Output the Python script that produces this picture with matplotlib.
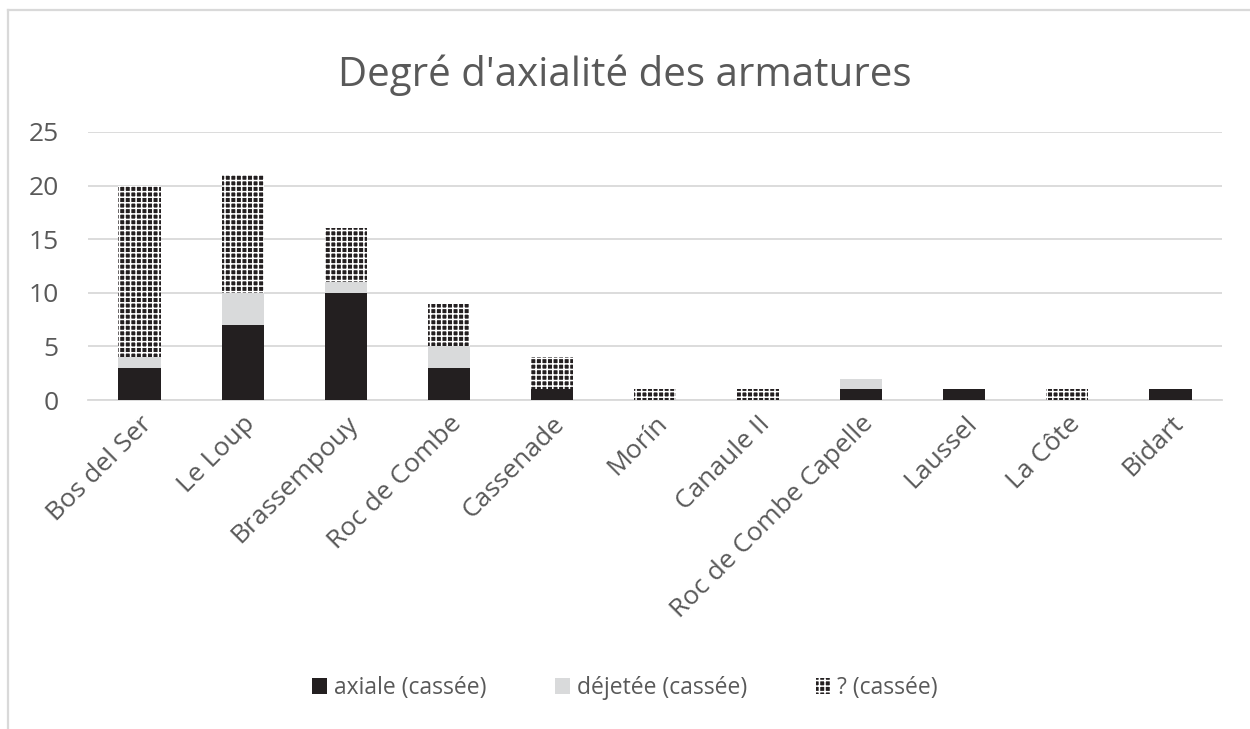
import numpy as np
import matplotlib.pyplot as plt
from matplotlib.patches import Patch
from matplotlib.lines import Line2D

sites = ["Bos del Ser", "Le Loup", "Brassempouy", "Roc de Combe", "Cassenade",
         "Morín", "Canaule II", "Roc de Combe Capelle", "Laussel", "La Côte", "Bidart"]
axiale = [3, 7, 10, 3, 1, 0, 0, 1, 1, 0, 1]
dejetee = [1, 3, 1, 2, 0, 0, 0, 1, 0, 0, 0]
inconnue = [16, 11, 5, 4, 3, 1, 1, 0, 0, 1, 0]
series_names = ["axiale (cassée)", "déjetée (cassée)", "? (cassée)"]

TEXT = "#595959"
GRID = "#d9d9d9"
DARK = "#231f20"
LIGHT = "#d9dadb"

plt.rcParams['font.family'] = ['Open Sans', 'DejaVu Sans']
plt.rcParams['hatch.linewidth'] = 1.1

fig = plt.figure(figsize=(12.5, 7.29), dpi=100)
ax = fig.add_axes([0.0704, 0.4513, 0.9072, 0.3677])

x = np.arange(len(sites))
w = 0.41
a = np.array(axiale)
d = np.array(dejetee)
q = np.array(inconnue)

ax.bar(x, a, w, color=DARK, linewidth=0, zorder=3)
ax.bar(x, d, w, bottom=a, color=LIGHT, linewidth=0, zorder=3)
ax.bar(x, q, w, bottom=a + d, facecolor=DARK, edgecolor="white",
       hatch="+++", linewidth=0, zorder=3)

ax.set_xlim(-0.5, len(sites) - 0.5)
ax.set_ylim(0, 25)
ax.set_yticks(range(0, 26, 5))
ax.yaxis.grid(True, color=GRID, linewidth=1.3, zorder=0)
ax.set_axisbelow(True)
for s in ["top", "right", "left"]:
    ax.spines[s].set_visible(False)
ax.spines["bottom"].set_color(GRID)
ax.spines["bottom"].set_linewidth(1.3)
ax.tick_params(axis="both", length=0, colors=TEXT, labelsize=19)
ax.tick_params(axis="y", pad=21)
ax.tick_params(axis="x", pad=8)
ax.set_xticks(x)
ax.set_xticklabels(sites, rotation=45, ha="right", rotation_mode="anchor")

fig.text(0.5, 0.897, "Degré d'axialité des armatures", ha="center", va="center",
         fontsize=29, color=TEXT)

handles = [Patch(facecolor=DARK, linewidth=0),
           Patch(facecolor=LIGHT, linewidth=0),
           Patch(facecolor=DARK, edgecolor="white", hatch="+++", linewidth=0)]
fig.legend(handles, series_names, loc="center", bbox_to_anchor=(0.5, 0.056),
           ncol=3, frameon=False, fontsize=16.5, labelcolor=TEXT,
           handlelength=0.65, handleheight=0.65, handletextpad=0.3, columnspacing=3.0)

# cadre gris du graphique
fig.add_artist(Line2D([0.0064, 0.0064], [0, 0.986], color="#d9d9d9", linewidth=1.6,
                      transform=fig.transFigure))
fig.add_artist(Line2D([0.0064, 1.0], [0.986, 0.986], color="#d9d9d9", linewidth=1.6,
                      transform=fig.transFigure))

fig.savefig("out.png", dpi=100)
